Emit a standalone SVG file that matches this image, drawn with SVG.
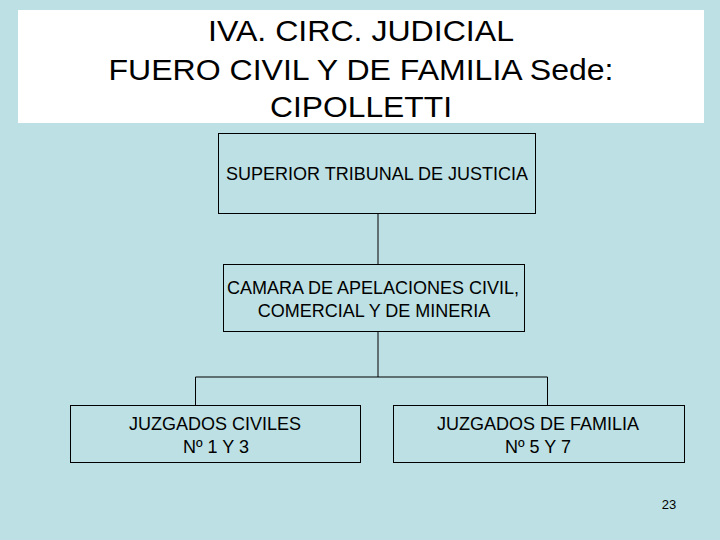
<svg xmlns="http://www.w3.org/2000/svg" width="720" height="540" viewBox="0 0 720 540">
<style>
.t{font-family:"Liberation Sans",Arial,sans-serif;fill:#000;text-anchor:middle}
.title{font-size:30px}
.lbl{font-size:18px}
.box{fill:#BCE0E3;stroke:#000;stroke-width:1}
.ln{stroke:#000;stroke-width:1;fill:none}
</style>
<rect width="720" height="540" fill="#BCE0E3"/>
<g id="title">
<rect x="18" y="10" width="686" height="113" fill="#FFFFFF"/>
<text class="t title" x="361" y="41" textLength="306" lengthAdjust="spacingAndGlyphs">IVA. CIRC. JUDICIAL</text>
<text class="t title" x="361" y="80" textLength="505" lengthAdjust="spacingAndGlyphs">FUERO CIVIL Y DE  FAMILIA Sede:</text>
<text class="t title" x="361" y="117" textLength="182" lengthAdjust="spacingAndGlyphs">CIPOLLETTI</text>
</g>
<g id="connectors">
<path class="ln" d="M378 213V264M378 332V377M195.5 377H547.5M195.5 377V405M547.5 377V405"/>
</g>
<g id="n1">
<rect class="box" x="218.5" y="133.5" width="317" height="80"/>
<text class="t lbl" x="377" y="180">SUPERIOR TRIBUNAL DE JUSTICIA</text>
</g>
<g id="n2">
<rect class="box" x="223.5" y="264.5" width="301" height="67"/>
<text class="t lbl" x="373" y="294">CAMARA DE APELACIONES CIVIL,</text>
<text class="t lbl" x="374" y="317">COMERCIAL Y DE MINERIA</text>
</g>
<g id="n3">
<rect class="box" x="70.5" y="405.5" width="290" height="57"/>
<text class="t lbl" x="215" y="430">JUZGADOS CIVILES</text>
<text class="t lbl" x="216" y="453">Nº 1 Y 3</text>
</g>
<g id="n4">
<rect class="box" x="393.5" y="405.5" width="291" height="57"/>
<text class="t lbl" x="538" y="430">JUZGADOS DE FAMILIA</text>
<text class="t lbl" x="538" y="453">Nº 5 Y 7</text>
</g>
<text class="t" x="669" y="509" font-size="13">23</text>
</svg>
